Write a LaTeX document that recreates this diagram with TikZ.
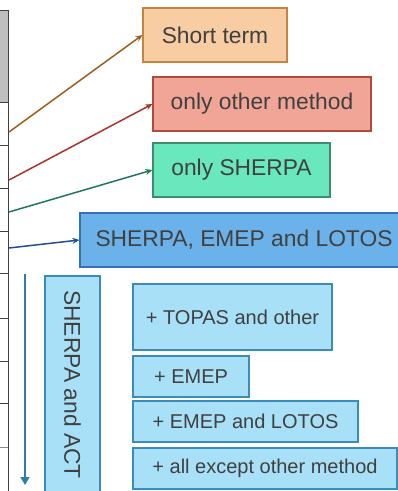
\documentclass[tikz,border=0pt]{standalone}
\usepackage{fontspec}
\setmainfont{Liberation Sans}
\usepackage{tikz}
\usetikzlibrary{arrows.meta}

\definecolor{txtgray}{HTML}{404040}
\definecolor{peachfill}{HTML}{F9CDA3}
\definecolor{peachline}{HTML}{C8843E}
\definecolor{salmonfill}{HTML}{F1A596}
\definecolor{salmonline}{HTML}{B04A3C}
\definecolor{mintfill}{HTML}{68E8BC}
\definecolor{mintline}{HTML}{3E8C6C}
\definecolor{bluefill}{HTML}{6BB1EA}
\definecolor{blueline}{HTML}{3470B4}
\definecolor{skyfill}{HTML}{A8E0F7}
\definecolor{skyline}{HTML}{3A8DB8}
\definecolor{brownarr}{HTML}{9C5E1A}
\definecolor{redarr}{HTML}{A8332A}
\definecolor{greenarr}{HTML}{1E7A55}
\definecolor{bluearr}{HTML}{1F4E96}
\definecolor{tealarr}{HTML}{2F7FA5}

\begin{document}
\begin{tikzpicture}[x=1pt, y=-1pt,
    box/.style={rectangle, draw, line width=1.2pt, inner sep=0pt, text=txtgray},
    bigtxt/.style={font=\fontsize{22.8}{26}\selectfont},
    smalltxt/.style={font=\fontsize{20}{24}\selectfont},
    skybox/.style={box, smalltxt, fill=skyfill, draw=skyline},
    pointer/.style={line width=1.5pt, -{Stealth[length=7pt, width=6pt]}}]
    \useasboundingbox (0,0) rectangle (398,491);
    \clip (0,0) rectangle (398,491);

    % left table
    \fill[black!25] (0,10) rectangle (8,102);
    \draw[txtgray, line width=1pt] (0,10) -- (8,10) -- (8,491);
    \foreach \yy in {102,145,188,231,273,318,361,403}
        \draw[txtgray, line width=1pt] (0,\yy) -- (8,\yy);
    \draw[black!45, line width=1pt] (0,447) -- (8,447);

    \coordinate (r1) at (9,132);
    \coordinate (r2) at (9,180);
    \coordinate (r3) at (9,212);
    \coordinate (r4) at (9,248);

    % boxes
    \node[box, bigtxt, fill=peachfill, draw=peachline, minimum width=144, minimum height=54] (short) at (215,35) {Short term};
    \node[box, bigtxt, fill=salmonfill, draw=salmonline, minimum width=218, minimum height=54] (other) at (262,104) {only other method};
    \node[box, bigtxt, fill=mintfill, draw=mintline, minimum width=177, minimum height=54] (sherpa) at (241.5,170) {only SHERPA};
    \node[box, bigtxt, fill=bluefill, draw=blueline, minimum width=328, minimum height=54] (three) at (244,240) {SHERPA, EMEP and LOTOS};

    \node[skybox, bigtxt, rotate=-90, minimum width=217, minimum height=55] (act) at (72.5,384.5) {SHERPA and ACT};
    \node[skybox, minimum width=199, minimum height=66] (topas) at (232.5,317) {+ TOPAS and other};
    \node[skybox, minimum width=116, minimum height=41] (emep) at (191,376.5) {+ EMEP};
    \node[skybox, minimum width=225, minimum height=41] (lotos) at (245.5,421.5) {+ EMEP and LOTOS};
    \node[skybox, minimum width=264, minimum height=41] (allbut) at (265,468.5) {+ all except other method};

    % arrows
    \draw[pointer, brownarr] (r1) -- (short.west);
    \draw[pointer, redarr] (r2) -- (other.west);
    \draw[pointer, greenarr] (r3) -- (sherpa.west);
    \draw[pointer, bluearr] (r4) -- (three.west);

    \coordinate (top) at (25,274);
    \coordinate (bottom) at (25,485);
    \draw[tealarr, line width=1.5pt, -{Triangle[length=8pt, width=9pt]}] (top) -- (bottom);
\end{tikzpicture}
\end{document}
